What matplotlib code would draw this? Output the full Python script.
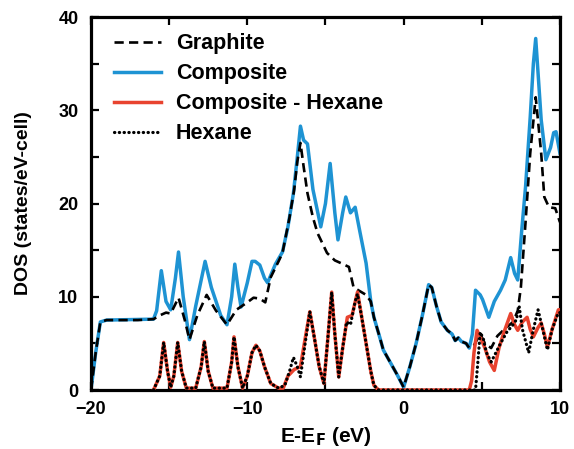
import matplotlib
matplotlib.use("Agg")
import matplotlib.pyplot as plt
from matplotlib.ticker import MultipleLocator

plt.rcParams['font.family'] = ['Liberation Sans', 'DejaVu Sans']
plt.rcParams['font.weight'] = 'bold'
plt.rcParams['mathtext.default'] = 'bf'

# Graphite (dashed)
graphite_E = [-20.0, -19.7, -19.4, -19.0, -17.0, -16.0, -15.6, -15.2, -14.9, -14.4, -14.0, -13.7,
              -13.2, -12.6, -12.0, -11.3, -10.7, -10.0, -9.6, -9.2, -8.85, -8.5, -8.0, -7.75,
              -7.3, -7.0, -6.8, -6.6, -6.4, -6.15, -5.8, -5.5, -4.9, -4.4, -4.0, -3.5, -3.2,
              -2.8, -2.4, -2.1, -1.9, -1.5, -1.3, -0.8, -0.4, 0.0, 0.4, 0.8, 1.2, 1.6, 1.8,
              2.1, 2.4, 2.8, 3.1, 3.3, 3.5, 3.7, 4.0, 4.2, 4.5, 4.9, 5.2, 5.6, 6.0, 6.5,
              7.0, 7.3, 7.5, 7.8, 8.1, 8.45, 8.8, 9.0, 9.3, 9.7, 10.0]
graphite_dos = [0, 4, 7.3, 7.5, 7.5, 7.6, 8.0, 8.3, 8.2, 9.9, 7.5, 5.4,
                8.0, 10.2, 8.5, 7.0, 8.6, 9.4, 9.9, 9.8, 9.4, 12.1, 13.8, 14.7,
                18.5, 21.5, 24.5, 26.5, 24.0, 21.1, 18.5, 16.8, 14.7, 13.9, 13.6, 13.2, 11.0,
                10.6, 10.2, 9.5, 7.8, 5.5, 4.3, 2.8, 1.6, 0.3, 2.5, 5.0, 8.0, 11.3, 11.0,
                9.0, 7.3, 6.4, 6.0, 5.3, 5.6, 5.2, 5.0, 4.5, 4.8, 6.0, 5.0, 4.5, 5.8, 6.6,
                7.3, 8.5, 11.0, 18.0, 25.4, 31.4, 25.4, 20.7, 19.6, 19.5, 18.0]

# Composite (blue)
comp_E = [-20.0, -19.7, -19.4, -19.0, -16.0, -15.8, -15.5, -15.2, -14.9, -14.6, -14.4, -14.1,
          -13.7, -13.3, -12.7, -12.3, -11.7, -11.3, -11.0, -10.8, -10.6, -10.4, -10.0, -9.7,
          -9.5, -9.2, -8.9, -8.7, -8.2, -7.75, -7.4, -7.05, -6.8, -6.6, -6.4, -6.15, -5.8,
          -5.3, -5.0, -4.7, -4.4, -4.2, -3.9, -3.7, -3.4, -3.1, -2.8, -2.4, -2.1, -1.9,
          -1.5, -1.3, -0.8, -0.4, 0.0, 0.4, 0.8, 1.2, 1.6, 1.8, 2.1, 2.4, 2.8, 3.1, 3.3,
          3.5, 3.7, 4.0, 4.2, 4.4, 4.6, 4.9, 5.05, 5.45, 5.8, 6.2, 6.5, 6.85, 7.1, 7.3,
          7.55, 7.8, 8.1, 8.3, 8.45, 8.6, 8.8, 9.1, 9.4, 9.6, 9.75, 10.0]
comp_dos = [0, 4, 7.3, 7.5, 7.6, 8.5, 12.8, 9.5, 8.6, 12.0, 14.8, 10.0,
            5.4, 9.0, 13.8, 11.0, 8.0, 7.0, 10.0, 13.5, 11.0, 8.9, 11.5, 13.8,
            13.8, 13.4, 12.0, 11.5, 13.5, 14.8, 17.5, 21.1, 25.0, 28.3, 26.8, 26.4, 21.5,
            17.5, 20.0, 24.3, 19.0, 16.1, 19.0, 20.7, 19.0, 19.6, 17.0, 13.6, 9.5, 7.8,
            5.5, 4.3, 2.8, 1.6, 0.3, 2.5, 5.0, 8.0, 11.3, 11.0, 9.0, 7.3, 6.4, 6.0, 5.3,
            5.6, 5.2, 5.0, 4.5, 6.0, 10.7, 10.2, 9.7, 7.8, 9.5, 10.7, 11.8, 14.2, 12.5, 11.8,
            17.0, 21.8, 29.3, 35.0, 37.7, 34.0, 29.0, 24.7, 26.0, 27.6, 27.7, 25.4]

# Composite - Hexane (red)
diff_E = [-16.0, -15.6, -15.35, -15.1, -14.9, -14.7, -14.45, -14.2, -13.9, -13.3, -12.95, -12.75,
          -12.5, -12.2, -11.3, -11.0, -10.85, -10.6, -10.3, -10.0, -9.7, -9.45, -9.2, -8.9,
          -8.5, -8.0, -7.7, -7.4, -7.0, -6.6, -6.3, -6.0, -5.7, -5.4, -5.1, -4.85, -4.6,
          -4.4, -4.15, -3.9, -3.6, -3.3, -2.95, -2.7, -2.4, -2.1, -1.9, -1.6, 4.2, 4.35,
          4.5, 4.7, 4.95, 5.2, 5.5, 5.8, 6.1, 6.4, 6.85, 7.1, 7.3, 7.6, 7.9, 8.1, 8.3,
          8.6, 8.8, 9.0, 9.2, 9.5, 9.9, 10.0]
diff_dos = [0, 1.5, 5.1, 2.0, 0.3, 1.5, 5.1, 2.0, 0.2, 0.2, 2.5, 5.2,
            2.0, 0.2, 0.2, 3.0, 5.7, 2.5, 0.2, 1.5, 4.0, 4.8, 4.2, 2.5,
            0.7, 0.2, 0.2, 1.5, 2.2, 2.5, 5.5, 8.4, 5.5, 2.5, 0.7, 5.5, 10.5,
            6.0, 1.4, 4.5, 7.8, 8.0, 10.5, 8.0, 5.0, 2.0, 0.5, 0, 0, 1.0,
            4.0, 6.4, 5.5, 4.5, 3.0, 2.1, 4.5, 6.1, 8.2, 7.0, 6.4, 7.3, 7.8, 6.5, 5.7,
            6.7, 7.2, 6.0, 4.6, 6.5, 8.6, 8.6]

# Hexane (dotted)
hex_E = [-16.0, -15.6, -15.35, -15.1, -14.9, -14.7, -14.45, -14.2, -13.9, -13.3, -12.95, -12.75,
         -12.5, -12.2, -11.3, -11.0, -10.85, -10.6, -10.3, -10.0, -9.7, -9.45, -9.2, -8.9,
         -8.5, -8.0, -7.6, -7.3, -7.05, -6.8, -6.6, -6.3, -6.0, -5.7, -5.4, -5.1, -4.85,
         -4.6, -4.4, -4.15, -3.9, -3.65, -3.4, -3.1, -2.95, -2.7, -2.4, -2.1, -1.9, -1.6,
         4.6, 4.75, 4.9, 5.1, 5.3, 5.6, 5.9, 6.2, 6.6, 7.0, 7.2, 7.4, 7.6, 8.0, 8.3,
         8.6, 8.9, 9.2, 9.5, 9.9, 10.0]
hex_dos = [0, 1.5, 5.1, 2.0, 0.3, 1.5, 5.1, 2.0, 0.2, 0.2, 2.5, 5.2,
           2.0, 0.2, 0.2, 3.0, 5.7, 2.5, 0.2, 1.5, 4.0, 4.8, 4.2, 2.5,
           0.7, 0.2, 0.5, 2.0, 3.5, 2.5, 1.4, 5.0, 8.4, 5.5, 2.5, 0.7, 5.5,
           10.5, 6.0, 1.4, 4.5, 7.3, 7.0, 9.5, 10.3, 8.0, 5.0, 2.0, 0.5, 0,
           0, 3.0, 6.2, 5.5, 4.0, 3.0, 4.0, 5.0, 6.2, 7.0, 7.5, 8.9, 6.5, 4.0, 6.5,
           8.6, 6.5, 4.3, 6.5, 8.3, 8.3]

labels = ["Graphite", "Composite", "Composite - Hexane", "Hexane"]
xticks = [-20, -10, 0, 10]
yticks = [0, 10, 20, 30, 40]

fig = plt.figure(figsize=(5.74, 4.49), dpi=100)
ax = fig.add_axes([0.1585, 0.1314, 0.817, 0.8306])

l_comp, = ax.plot(comp_E, comp_dos, color='#1e93d3', lw=2.5, zorder=2, solid_joinstyle='round')
l_graph, = ax.plot(graphite_E, graphite_dos, color='black', lw=1.9, ls=(0, (3.5, 2)), zorder=3)
l_diff, = ax.plot(diff_E, diff_dos, color='#e8432f', lw=2.5, zorder=4, solid_joinstyle='round')
l_hex, = ax.plot(hex_E, hex_dos, color='black', lw=2.3, ls=(0, (0.1, 1.4)),
                 dash_capstyle='round', zorder=5)

ax.set_xlim(-20, 10)
ax.set_ylim(0, 40)
ax.set_xticks(xticks)
ax.set_yticks(yticks)
ax.xaxis.set_minor_locator(MultipleLocator(5))
ax.yaxis.set_minor_locator(MultipleLocator(5))
ax.tick_params(which='both', direction='in', top=True, right=True, length=6, width=1.6,
               labelsize=13)
ax.tick_params(axis='x', pad=8)
ax.tick_params(axis='y', pad=9)
for lab in ax.get_xticklabels() + ax.get_yticklabels():
    lab.set_fontweight('bold')
for s in ax.spines.values():
    s.set_linewidth(2.3)

ax.set_xlabel(r"E-E$_\mathbf{F}$ (eV)", fontsize=15, fontweight='bold', labelpad=5)
ax.set_ylabel("DOS (states/eV-cell)", fontsize=14, fontweight='bold', labelpad=19)

leg = ax.legend([l_graph, l_comp, l_diff, l_hex], labels, loc='upper left',
                frameon=False, fontsize=15.5, handlelength=2.2, handletextpad=0.68,
                labelspacing=0.42, borderpad=0.4, borderaxespad=0.0,
                bbox_to_anchor=(0.03, 0.98))
for t in leg.get_texts():
    t.set_fontweight('bold')

fig.savefig("out.png", dpi=100)
